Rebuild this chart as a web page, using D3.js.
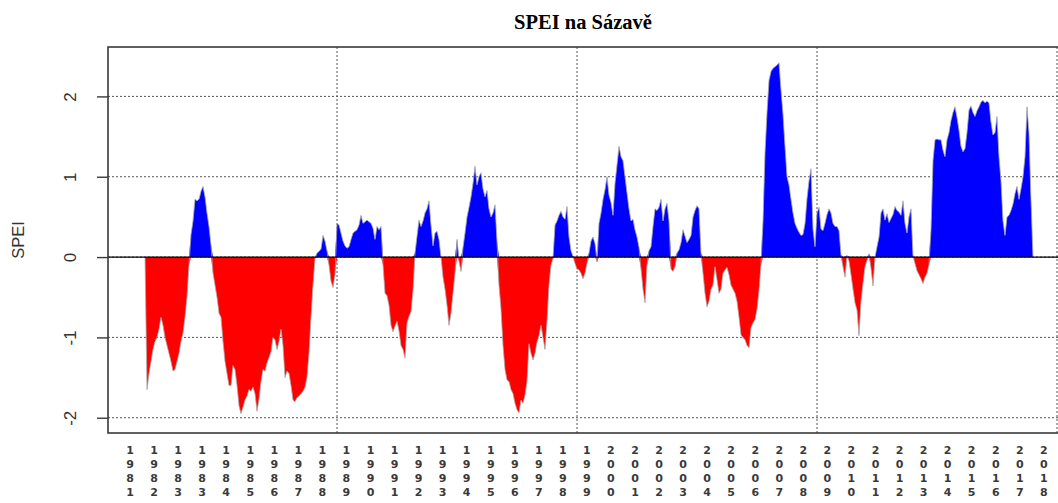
<!DOCTYPE html>
<html><head><meta charset="utf-8">
<script src="https://cdn.jsdelivr.net/npm/d3@7/dist/d3.min.js"></script>
<style>body{margin:0;background:#fff;overflow:hidden}</style>
</head><body>
<svg id="c" width="1058" height="503"></svg>
<script>
// ---- data (monthly SPEI, first value = Jan 1982) ----
const startYear = 1982;
const spei1980s = [
  -1.65,-1.45,-1.3,-1.15,-1.05,-1.0,-0.9,-0.75,-0.85,-1.0,-1.1,-1.2,
  -1.3,-1.42,-1.4,-1.3,-1.2,-1.05,-0.95,-0.75,-0.5,-0.1,0.28,0.45,
  0.72,0.7,0.72,0.82,0.88,0.75,0.55,0.38,0.15,-0.2,-0.35,-0.5,
  -0.7,-0.75,-1.05,-1.3,-1.45,-1.6,-1.6,-1.35,-1.4,-1.6,-1.85,-1.95,
  -1.87,-1.78,-1.73,-1.65,-1.67,-1.62,-1.7,-1.92,-1.77,-1.55,-1.4,-1.42,
  -1.32,-1.25,-1.18,-1.0,-1.03,-1.15,-1.05,-0.9,-1.1,-1.5,-1.42,-1.45,
  -1.6,-1.78,-1.8,-1.75,-1.73,-1.7,-1.67,-1.62,-1.5,-1.2,-0.75,-0.35,
  -0.02,0.05,0.07,0.1,0.27,0.2,0.08,-0.1,-0.3,-0.38,-0.22,0.42
];
const spei1990s = [
  0.40,0.3,0.2,0.14,0.11,0.13,0.22,0.3,0.32,0.34,0.40,0.52,
  0.42,0.44,0.46,0.44,0.42,0.36,0.22,0.38,0.34,0.38,-0.1,-0.45,
  -0.48,-0.6,-0.85,-0.93,-0.86,-0.8,-0.92,-1.1,-1.15,-1.26,-0.82,-0.74,
  -0.68,-0.42,0.05,0.26,0.46,0.38,0.45,0.55,0.6,0.7,0.4,0.14,
  0.3,0.32,0.22,0.0,-0.25,-0.4,-0.6,-0.85,-0.7,-0.45,-0.2,0.22,
  -0.05,-0.18,0.12,0.3,0.5,0.62,0.75,0.92,1.13,0.9,1.0,1.05,
  0.85,0.75,0.83,0.6,0.5,0.55,0.65,0.2,-0.35,-0.65,-1.1,-1.4,
  -1.53,-1.55,-1.65,-1.7,-1.82,-1.9,-1.94,-1.78,-1.82,-1.72,-1.55,-1.08,
  -1.2,-1.28,-1.2,-1.06,-0.98,-0.85,-1.0,-1.15,-0.8,-0.35,-0.1,-0.02,
  0.4,0.45,0.52,0.57,0.5,0.47,0.63,0.25,0.08,0.01,-0.08,-0.15
];
const spei2000s = [
  -0.16,-0.2,-0.27,-0.2,-0.08,0.05,0.2,0.25,0.17,-0.06,0.42,0.55,
  0.72,0.84,1.0,0.77,0.68,0.52,0.92,1.15,1.38,1.25,1.2,1.0,
  0.8,0.6,0.45,0.47,0.34,0.25,0.12,-0.15,-0.4,-0.57,-0.1,0.08,
  0.13,0.38,0.6,0.58,0.62,0.72,0.45,0.6,0.67,0.45,-0.15,-0.18,
  -0.12,0.05,0.09,0.18,0.34,0.26,0.18,0.22,0.27,0.5,0.58,0.64,
  0.6,0.05,-0.2,-0.45,-0.62,-0.55,-0.4,-0.35,-0.12,-0.28,-0.45,-0.4,
  -0.2,-0.16,-0.13,-0.22,-0.35,-0.4,-0.45,-0.55,-0.75,-0.97,-1.0,-1.03,
  -1.1,-1.13,-0.88,-0.82,-0.78,-0.65,-0.42,-0.1,0.45,1.3,1.8,2.2,
  2.31,2.35,2.37,2.39,2.42,2.08,1.78,1.38,1.0,0.9,0.72,0.55,
  0.42,0.36,0.31,0.27,0.28,0.42,0.73,0.95,1.1,0.35,0.13,0.55
];
const spei2010s = [
  0.62,0.35,0.33,0.42,0.53,0.6,0.55,0.42,0.38,0.38,0.33,0.03,
  -0.12,-0.25,0.02,-0.05,-0.22,-0.4,-0.57,-0.66,-0.98,-0.55,-0.33,-0.12,
  -0.04,0.04,-0.14,-0.36,0.0,0.13,0.25,0.55,0.6,0.46,0.54,0.43,
  0.48,0.53,0.63,0.58,0.56,0.52,0.7,0.42,0.3,0.5,0.6,0.02,
  -0.08,-0.17,-0.22,-0.27,-0.33,-0.25,-0.2,-0.1,0.34,1.2,1.46,1.47,
  1.46,1.46,1.33,1.25,1.46,1.55,1.7,1.8,1.87,1.74,1.58,1.38,
  1.31,1.35,1.55,1.83,1.88,1.8,1.75,1.82,1.87,1.93,1.95,1.92,
  1.94,1.92,1.68,1.52,1.55,1.75,1.25,0.95,0.45,0.27,0.5,0.52,
  0.58,0.66,0.79,0.88,0.72,0.85,1.0,1.25,1.87,1.54,0.71
];
const xLabels = ["1981","1982","1983","1983","1984","1985","1986","1987","1988","1989",
  "1990","1991","1992","1993","1994","1995","1996","1997","1998","1999",
  "2000","2001","2002","2003","2004","2005","2006","2007","2008","2009",
  "2010","2011","2012","2013","2014","2015","2016","2017","2018"];
const yTicks = [-2,-1,0,1,2];
const xGridYears = [1990,2000,2010,2020];
const titleText = "SPEI na Sázavě";
const yTitle = "SPEI";

// ---- build series (R style: zero padded at both ends) ----
const values = [].concat(spei1980s, spei1990s, spei2000s, spei2010s);
const n = values.length;
const series = [{t: startYear, v: 0}]
  .concat(values.map((v, i) => ({t: startYear + (i + 1) / 12, v})))
  .concat([{t: startYear + (n + 1) / 12, v: 0}]);

const svg = d3.select("#c");
const L = 108, R = 1070, T = 47, B = 433;
const x = d3.scaleLinear().domain([1980.4583, 2020.5417]).range([L, R]);
const y = d3.scaleLinear().domain([-2.19, 2.615]).range([B, T]);

// grid
const g = svg.append("g");
g.selectAll("line.hg").data(yTicks).join("line")
  .attr("x1", L).attr("x2", R).attr("y1", d => y(d)).attr("y2", d => y(d))
  .attr("stroke", "#555").attr("stroke-width", 1).attr("stroke-dasharray", "2,2");
g.selectAll("line.vg").data(xGridYears).join("line")
  .attr("x1", d => x(d)).attr("x2", d => x(d)).attr("y1", T).attr("y2", B)
  .attr("stroke", "#555").attr("stroke-width", 1).attr("stroke-dasharray", "2,2");

// areas
const areaPos = d3.area().x(d => x(d.t)).y0(y(0)).y1(d => y(Math.max(d.v, 0)));
const areaNeg = d3.area().x(d => x(d.t)).y0(y(0)).y1(d => y(Math.min(d.v, 0)));
svg.append("path").datum(series).attr("d", areaPos).attr("fill", "#0000ff");
svg.append("path").datum(series).attr("d", areaNeg).attr("fill", "#ff0000");
svg.append("path").datum(series)
  .attr("d", d3.line().x(d => x(d.t)).y(d => y(d.v)))
  .attr("fill", "none").attr("stroke", "#a9a9a9").attr("stroke-width", 0.8);

// zero line
svg.append("line").attr("x1", L).attr("x2", R).attr("y1", y(0)).attr("y2", y(0))
  .attr("stroke", "#000").attr("stroke-width", 1.3);

// box
svg.append("rect").attr("x", L).attr("y", T).attr("width", R - L).attr("height", B - T)
  .attr("fill", "none").attr("stroke", "#3a3a3a").attr("stroke-width", 1.6);

// y axis
const yAxis = d3.axisLeft(y).tickValues(yTicks).tickSize(11).tickFormat(d => String(d));
const ya = svg.append("g").attr("transform", `translate(${L},0)`).call(yAxis);
ya.select(".domain").remove();
ya.selectAll(".tick line").attr("stroke", "#3a3a3a").attr("stroke-width", 1.4);
ya.selectAll(".tick text").attr("x", 0).attr("dy", null).attr("y", 0)
  .attr("transform", "translate(-32,0) rotate(-90)")
  .attr("text-anchor", "middle")
  .style("font-family", "'Liberation Sans', Arial, sans-serif")
  .style("font-size", "17px").attr("fill", "#333");

// y title
svg.append("text").attr("transform", `translate(24,${(T + B) / 2}) rotate(-90)`)
  .attr("text-anchor", "middle")
  .style("font-family", "'Liberation Sans', Arial, sans-serif")
  .style("font-size", "16.5px").attr("fill", "#333").text(yTitle);

// title
svg.append("text").attr("x", 583).attr("y", 29).attr("text-anchor", "middle")
  .style("font-family", "'Liberation Serif', 'Times New Roman', serif")
  .style("font-weight", "bold").style("font-size", "20.5px").attr("fill", "#000")
  .text(titleText);

// x labels (stacked digits)
const xl = d3.scalePoint().domain(d3.range(xLabels.length)).range([x(1981.375), x(2019.45)]);
const lab = svg.append("g").selectAll("text").data(xLabels).join("text")
  .attr("x", (d, i) => xl(i)).attr("y", 453.5)
  .attr("text-anchor", "middle")
  .style("font-family", "'DejaVu Sans', Verdana, sans-serif")
  .style("font-weight", "bold").style("font-size", "11px").attr("fill", "#3a3a3a");
lab.each(function(d) {
  const s = d3.select(this);
  d.split("").forEach((ch, k) => {
    s.append("tspan").attr("x", s.attr("x")).attr("dy", k === 0 ? 0 : 14.3).text(ch);
  });
});
</script>
</body></html>
